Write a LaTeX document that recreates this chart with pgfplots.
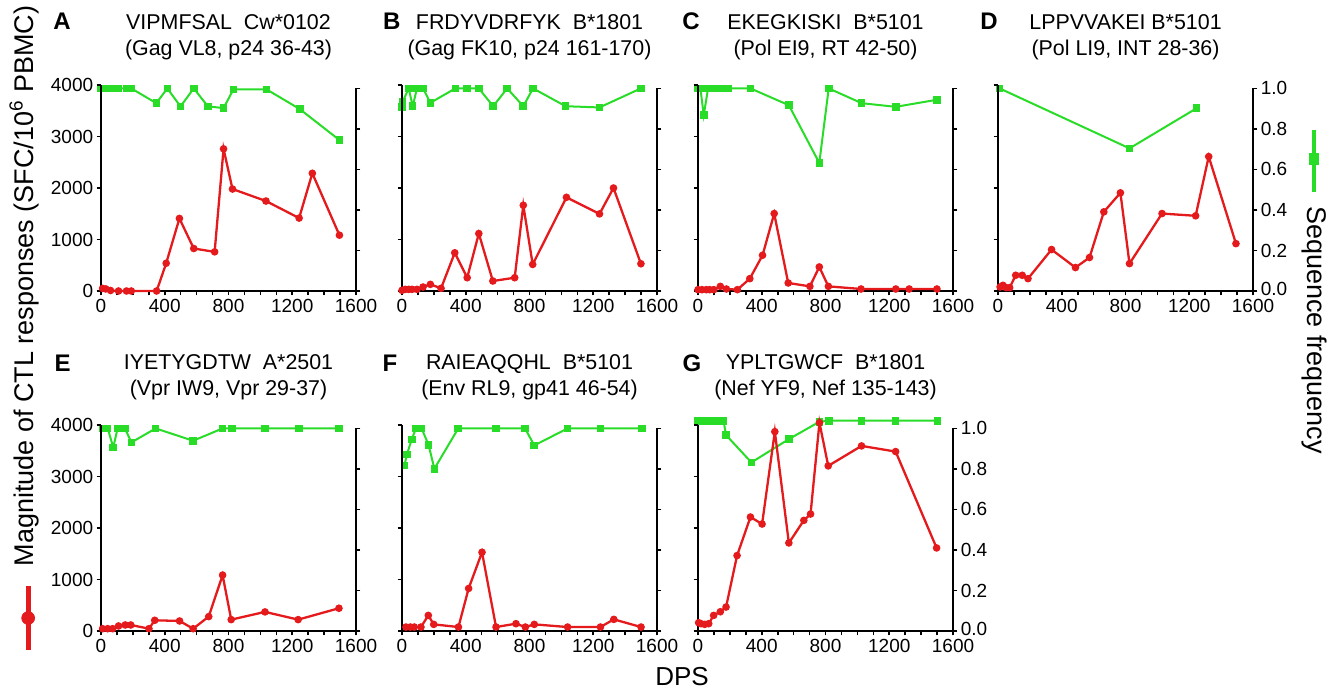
\documentclass[border=0pt]{standalone}
\usepackage{pgfplots}
\pgfplotsset{compat=1.18}
\usepackage{fontspec}
\setmainfont{Liberation Sans}

\definecolor{ctlred}{RGB}{228,26,28}
\definecolor{seqgreen}{RGB}{40,220,40}

\tikzset{letter/.style={font=\bfseries\fontsize{12}{14}\selectfont}}

\pgfplotsset{
  panel/.style={
    scale only axis, width=127.5pt, xmin=0, xmax=1600, clip=false,
    tick style={black, line width=0.8pt},
    major tick length=2.2pt, minor tick length=2.2pt,
    ticklabel style={font=\fontsize{9.5}{11}\selectfont, inner sep=0.5pt},
    /pgf/number format/assume math mode=true,
    /pgf/number format/1000 sep={},
  },
  % red: magnitude of CTL response, left axis
  ctl/.style={
    panel, height=103pt, ymin=0, ymax=4000,
    axis x line=bottom, axis y line=left,
    axis line style={-, line width=1pt},
    tick align=outside,
    xtick={0,400,800,1200,1600}, minor x tick num=3,
    ytick={0,1000,2000,3000,4000},
    xticklabel style={yshift=-1.3pt},
    yticklabel style={xshift=-1pt},
    title style={at={(0.5,1.218)}, anchor=center, yshift=-4.5pt, align=center,
      font=\fontsize{10.7}{12.8}\selectfont},
  },
  % green: sequence frequency, right axis
  seq/.style={
    panel, height=101.3pt, ymin=0, ymax=1,
    axis y line=right, axis x line=none,
    axis line style={-, line width=1pt},
    tick align=outside,
    ytick={0,0.2,0.4,0.6,0.8,1},
    yticklabel style={xshift=1pt},
  },
  % the right-hand scale that carries numbers (panels D and G)
  seqlab/.style={yticklabels={\raisebox{2.5pt}{0.0},0.2,0.4,0.6,0.8,1.0}},
  ctlline/.style={ctlred, line width=1.15pt, mark=*, mark size=1.3pt},
  seqline/.style={seqgreen, line width=1pt, mark=square*, mark size=1.4pt},
}

\begin{document}
\begin{tikzpicture}
\path[use as bounding box] (0,0) rectangle (668pt,345.5pt);

% ---------------- A ----------------
\begin{axis}[seq, at={(50.5pt,200pt)}, anchor=south west, yticklabels={}]
\addplot[seqline] coordinates {(0,1)(30,1)(50,1)(70,1)(110,1)(160,1)(190,1)(347,0.927)(416,1)(499,0.911)(582,1)(671,0.911)(769,0.903)(831,0.995)(1039,0.995)(1247,0.898)(1496,0.745)};
\end{axis}
\begin{axis}[ctl, at={(50.5pt,200pt)}, anchor=south west,
  title={VIPMFSAL\ \ Cw*0102\\(Gag VL8, p24 36-43)}]
\addplot[ctlline] coordinates {(10,50)(30,40)(60,10)(110,0)(160,0)(190,0)(349,0)(409,539)(492,1409)(582,825)(713,760)(769,2760)(825,1980)(1035,1747)(1243,1416)(1326,2286)(1496,1084)};
\node[letter] at (rel axis cs:-0.153,1.31) {A};
\end{axis}

% ---------------- B ----------------
\begin{axis}[seq, at={(201pt,200pt)}, anchor=south west, yticklabels={}]
\addplot[seqline] coordinates {(0,0.909)(4,0.934)(42,1)(67,0.912)(94,1)(132,1)(178,0.929)(335,1)(409,1)(482,1)(572,0.912)(660,1)(761,0.912)(822,1)(1027,0.912)(1239,0.906)(1499,1)};
\end{axis}
\begin{axis}[ctl, at={(201pt,200pt)}, anchor=south west, yticklabels={},
  title={FRDYVDRFYK\ \ B*1801\\(Gag FK10, p24 161-170)}]
\addplot[ctlline] coordinates {(0,13)(21,32)(42,32)(63,32)(94,32)(132,77)(178,129)(245,52)(331,742)(409,258)(482,1116)(570,194)(707,258)(761,1665)(820,516)(1032,1819)(1239,1497)(1327,2000)(1499,529)};
\node[letter] at (rel axis cs:-0.04,1.31) {B};
\end{axis}

% ---------------- C ----------------
\begin{axis}[seq, at={(349pt,200pt)}, anchor=south west, yticklabels={}]
\addplot[seqline] coordinates {(0,1)(15,1)(36,0.868)(63,1)(94,1)(130,1)(160,1)(189,1)(329,1)(570,0.917)(761,0.632)(820,1)(1027,0.927)(1241,0.909)(1499,0.944)};
\end{axis}
\begin{axis}[ctl, at={(349pt,200pt)}, anchor=south west, yticklabels={},
  title={EKEGKISKI\ \ B*5101\\(Pol EI9, RT 42-50)}]
\addplot[ctlline] coordinates {(0,26)(25,26)(52,26)(73,26)(99,26)(140,90)(178,39)(247,26)(325,240)(405,694)(478,1504)(566,156)(702,90)(761,467)(818,90)(1023,39)(1241,39)(1325,39)(1499,39)};
\node[letter] at (rel axis cs:-0.027,1.31) {C};
\end{axis}

% ---------------- D ----------------
\begin{axis}[seq, seqlab, at={(499pt,200pt)}, anchor=south west,
  legend style={at={(1.255,0.642)}, anchor=center, draw=none, fill=none, inner sep=0pt}]
\addlegendimage{legend image code/.code={
  \draw[seqgreen, line width=2pt] (0pt,-15.5pt) -- (0pt,15.5pt);
  \fill[seqgreen] (-2.3pt,-1.7pt) rectangle (2.3pt,3.7pt);}}
\addlegendentry{\mbox{}}
\addplot[seqline] coordinates {(10,1)(825,0.704)(1246,0.902)};
\end{axis}
\begin{axis}[ctl, at={(499pt,200pt)}, anchor=south west, yticklabels={},
  title={LPPVVAKEI B*5101\\(Pol LI9, INT 28-36)}]
\addplot[ctlline] coordinates {(13,78)(31,110)(52,65)(73,65)(111,305)(152,305)(188,240)(336,805)(486,455)(574,650)(664,1537)(768,1906)(825,532)(1029,1504)(1240,1460)(1322,2610)(1493,920)};
\node[letter] at (rel axis cs:-0.035,1.31) {D};
\end{axis}

% ---------------- E ----------------
\begin{axis}[seq, at={(50.5pt,30pt)}, anchor=south west, yticklabels={}]
\addplot[seqline] coordinates {(10,1)(42,1)(77,0.906)(104,1)(150,1)(191,0.931)(343,1)(578,0.939)(763,1)(821,1)(1029,1)(1241,1)(1493,1)};
\end{axis}
\begin{axis}[ctl, at={(50.5pt,30pt)}, anchor=south west,
  title={IYETYGDTW\ \ A*2501\\(Vpr IW9, Vpr 29-37)},
  legend style={at={(-0.27,0.063)}, anchor=center, draw=none, fill=none, inner sep=0pt}]
\addlegendimage{legend image code/.code={
  \draw[ctlred, line width=2.6pt] (0pt,-16pt) -- (0pt,16pt);
  \fill[ctlred] (0pt,0pt) circle (3.2pt);}}
\addlegendentry{\mbox{}}
\addplot[ctlline] coordinates {(10,45)(42,45)(73,45)(110,98)(152,117)(187,117)(301,45)(337,208)(493,195)(578,45)(676,280)(763,1086)(817,221)(1029,371)(1237,221)(1493,442)};
\node[letter] at (rel axis cs:-0.15,1.30) {E};
\end{axis}

% ---------------- F ----------------
\begin{axis}[seq, at={(201pt,30pt)}, anchor=south west, yticklabels={}]
\addplot[seqline] coordinates {(15,0.817)(31,0.872)(61,0.946)(88,1)(123,1)(167,0.918)(203,0.801)(353,1)(590,1)(772,1)(830,0.916)(1039,1)(1245,1)(1504,1)};
\end{axis}
\begin{axis}[ctl, at={(201pt,30pt)}, anchor=south west, yticklabels={},
  title={RAIEAQQHL\ \ B*5101\\(Env RL9, gp41 46-54)}]
\addplot[ctlline] coordinates {(25,77)(52,77)(77,77)(119,77)(165,303)(199,129)(354,77)(418,826)(502,1529)(590,77)(715,142)(774,77)(830,129)(1039,77)(1245,77)(1329,226)(1500,77)};
\node[letter] at (rel axis cs:-0.047,1.30) {F};
\end{axis}

% ---------------- G ----------------
\begin{axis}[seq, seqlab, at={(349pt,30pt)}, anchor=south west]
\addplot[seqline] coordinates {(0,1.038)(20,1.038)(45,1.038)(70,1.038)(100,1.038)(140,1.038)(160,1.038)(176,0.967)(335,0.832)(570,0.947)(762,1.033)(821,1.038)(1026,1.038)(1240,1.038)(1502,1.038)};
\end{axis}
\begin{axis}[ctl, at={(349pt,30pt)}, anchor=south west, yticklabels={},
  title={YPLTGWCF\ \ B*1801\\(Nef YF9, Nef 135-143)}]
\addplot[ctlline] coordinates {(4,161)(19,142)(42,129)(67,142)(98,303)(140,374)(176,465)(245,1465)(329,2213)(402,2077)(482,3871)(570,1710)(664,2148)(706,2271)(762,4045)(817,3206)(1026,3594)(1240,3484)(1497,1613)};
\node[letter] at (rel axis cs:-0.024,1.30) {G};
\end{axis}

% shared axis titles
\node[rotate=90, font=\fontsize{13.5}{15}\selectfont] at (12pt,202.5pt)
  {Magnitude of CTL responses (SFC/10\textsuperscript{6} PBMC)};
\node[rotate=-90, font=\fontsize{13.5}{15}\selectfont] at (657pt,180.5pt)
  {Sequence frequency};
\node[font=\fontsize{13}{15}\selectfont] at (341pt,7pt) {DPS};
\end{tikzpicture}
\end{document}
